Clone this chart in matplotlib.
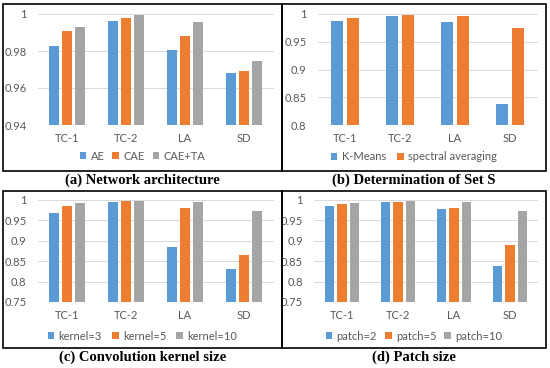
import matplotlib
matplotlib.use("Agg")
import numpy as np
import matplotlib.pyplot as plt
from matplotlib.patches import Rectangle

categories = ['TC-1', 'TC-2', 'LA', 'SD']

# (a) Network architecture
a_names = ['AE', 'CAE', 'CAE+TA']
a_vals = [[0.9827, 0.9960, 0.9804, 0.9679],
          [0.9908, 0.9977, 0.9881, 0.9692],
          [0.9930, 0.9995, 0.9957, 0.9748]]
a_ticks = [0.94, 0.96, 0.98, 1.0]
a_ticklabels = ['0.94', '0.96', '0.98', '1']

# (b) Determination of Set S
b_names = ['K-Means', 'spectral averaging']
b_vals = [[0.988, 0.996, 0.986, 0.838],
          [0.993, 0.999, 0.996, 0.975]]
b_ticks = [0.8, 0.85, 0.9, 0.95, 1.0]
b_ticklabels = ['0.8', '0.85', '0.9', '0.95', '1']

# (c) Convolution kernel size
c_names = ['kernel=3', 'kernel=5', 'kernel=10']
c_vals = [[0.967, 0.995, 0.884, 0.831],
          [0.985, 0.997, 0.981, 0.866],
          [0.992, 0.998, 0.994, 0.974]]

# (d) Patch size
d_names = ['patch=2', 'patch=5', 'patch=10']
d_vals = [[0.985, 0.995, 0.977, 0.839],
          [0.989, 0.996, 0.981, 0.890],
          [0.992, 0.998, 0.995, 0.974]]
cd_ticks = [0.75, 0.8, 0.85, 0.9, 0.95, 1.0]
cd_ticklabels = ['0.75', '0.8', '0.85', '0.9', '0.95', '1']

titles = ['(a) Network architecture', '(b) Determination of Set S',
          '(c) Convolution kernel size', '(d) Patch size']

colors = ['#5B9BD5', '#ED7D31', '#A5A5A5']
txt = '#595959'

W, H = 550, 368
fig = plt.figure(figsize=(W / 100, H / 100), dpi=100)
plt.rcParams['font.family'] = ['Lato', 'DejaVu Sans']


def box(l, t, r, b):
    return [l / W, 1 - b / H, (r - l) / W, (b - t) / H]


def panel(axrect, frame, names, vals, ticks, ticklabels, title, width, step, leg_y, colsp):
    ax = fig.add_axes(box(*axrect))
    x = np.arange(len(categories))
    n = len(names)
    for i in range(n):
        off = (i - (n - 1) / 2) * step
        ax.bar(x + off, np.array(vals[i]) - ticks[0], width, bottom=ticks[0],
               color=colors[i], label=names[i], zorder=3)
    ax.set_ylim(ticks[0], ticks[-1])
    ax.set_xlim(-0.5, len(categories) - 0.5)
    ax.set_yticks(ticks)
    ax.set_yticklabels(ticklabels)
    ax.set_xticks(x)
    ax.set_xticklabels(categories)
    ax.tick_params(length=0, labelsize=8, colors=txt)
    ax.tick_params(axis='y', pad=8)
    ax.tick_params(axis='x', pad=6)
    ax.grid(axis='y', color='#D9D9D9', lw=0.7, zorder=0)
    for s in ax.spines.values():
        s.set_visible(False)
    l, t, r, b = frame
    fig.add_artist(Rectangle((l / W, 1 - b / H), (r - l) / W, (b - t) / H,
                             transform=fig.transFigure, fill=False, lw=1.2,
                             edgecolor='black'))
    fig.legend(*ax.get_legend_handles_labels(), loc='center',
               bbox_to_anchor=((l + r) / 2 / W, 1 - leg_y / H), ncol=n,
               frameon=False, fontsize=8, handlelength=0.6, handleheight=0.6,
               handletextpad=0.4, columnspacing=colsp, labelcolor=txt)
    fig.text((l + r) / 2 / W, 1 - (b + 9) / H, title, ha='center', va='center',
             family='Liberation Serif', weight='bold', fontsize=10.5)


panel((37.5, 14, 273.5, 125), (3, 4, 282, 171), a_names, a_vals, a_ticks,
      a_ticklabels, titles[0], 0.17, 0.22, 156, 0.7)
panel((317.5, 14, 537.5, 125), (282, 4, 546, 171), b_names, b_vals, b_ticks,
      b_ticklabels, titles[1], 0.22, 0.28, 157, 1.0)
panel((37.5, 200, 273.5, 302), (3, 191, 282, 348), c_names, c_vals, cd_ticks,
      cd_ticklabels, titles[2], 0.17, 0.22, 336, 0.9)
panel((314, 200, 538, 302), (282, 191, 546, 348), d_names, d_vals, cd_ticks,
      cd_ticklabels, titles[3], 0.17, 0.22, 336, 0.7)

fig.savefig('out.png', dpi=100)
